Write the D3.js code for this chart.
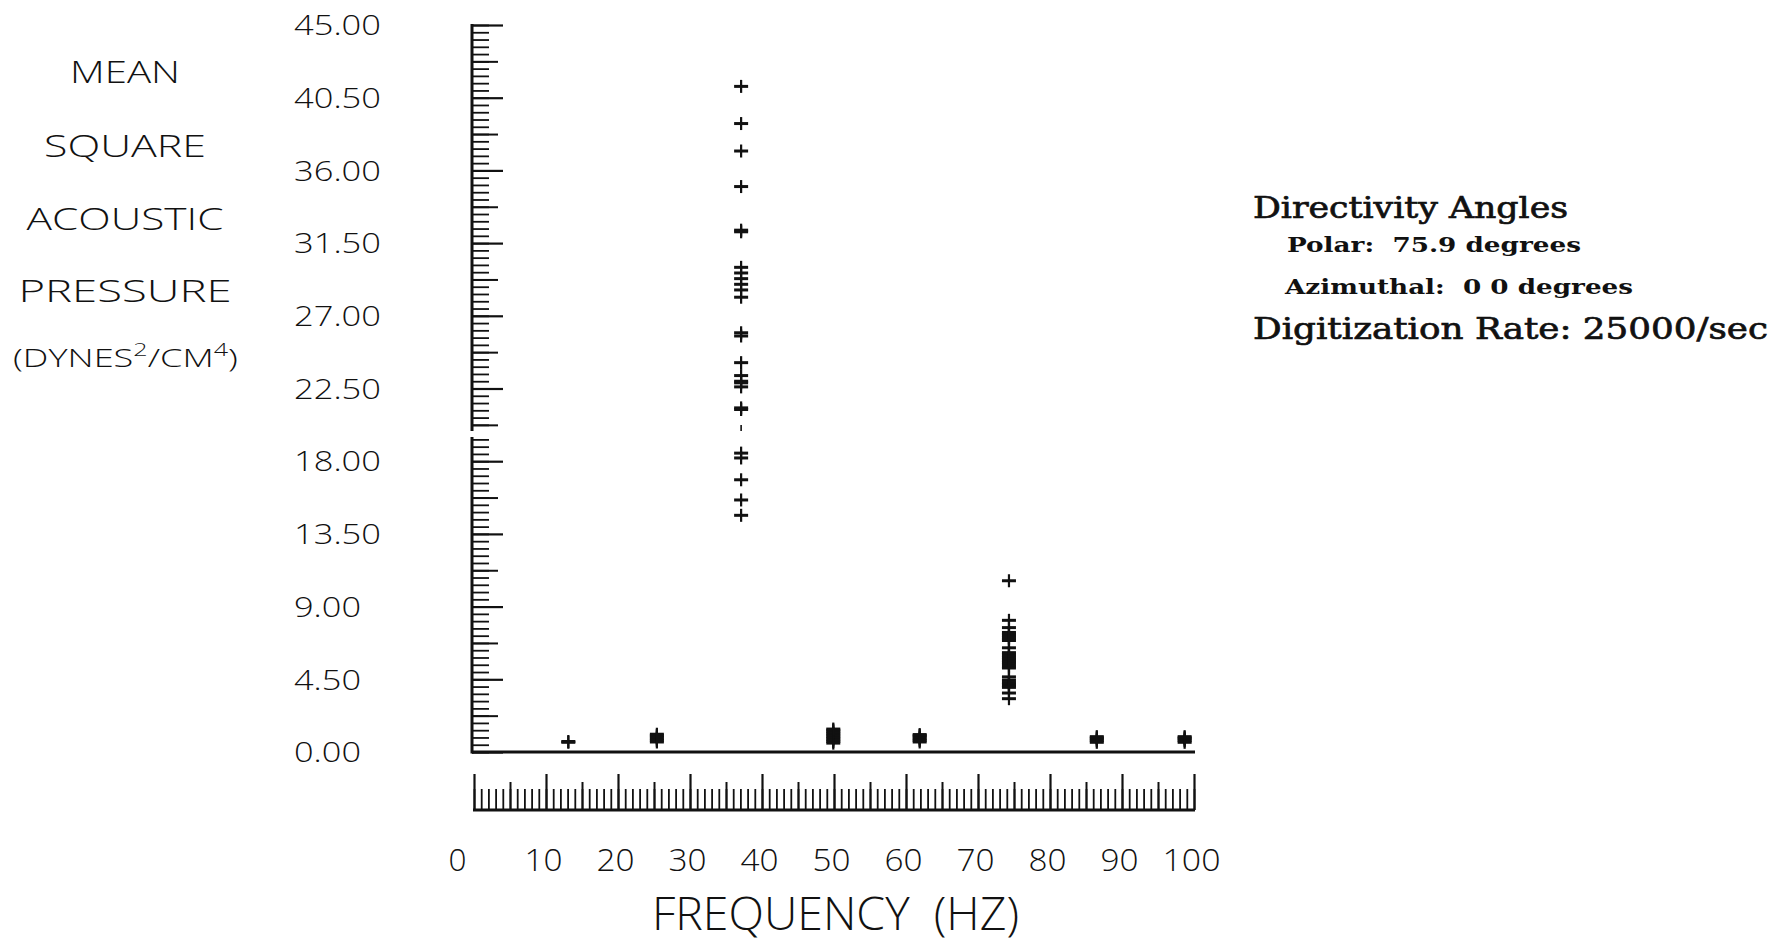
<!DOCTYPE html>
<html>
<head>
<meta charset="utf-8">
<script src="https://cdn.jsdelivr.net/npm/d3@7"></script>
<style>
  body { margin: 0; background: #fff; }
  svg text { white-space: pre; }
</style>
</head>
<body>
<svg id="chart" width="1786" height="942"></svg>
<script>
// ---------------- data ----------------
const yTickValues = [0, 4.5, 9, 13.5, 18, 22.5, 27, 31.5, 36, 40.5, 45];
const yTickLabels = ["0.00", "4.50", "9.00", "13.50", "18.00", "22.50", "27.00", "31.50", "36.00", "40.50", "45.00"];
const xTickValues = [0, 10, 20, 30, 40, 50, 60, 70, 80, 90, 100];
const xTickLabels = ["0", "10", "20", "30", "40", "50", "60", "70", "80", "90", "100"];

// harmonic frequencies (Hz)
const harmonicFreqs = [13.1, 25.4, 37.1, 49.9, 61.9, 74.3, 86.5, 98.7];
// mean square acoustic pressure observations at each harmonic
const harmonic1 = [0.6, 0.65];
const harmonic2 = [0.62, 0.72, 0.82, 0.92, 1.02, 1.1];
const harmonic3 = [41.2, 38.9, 37.2, 35.0, 32.3, 32.2, 30.0, 29.65, 29.3, 28.95, 28.6, 28.15,
                   25.95, 25.75, 24.1, 23.3, 22.95, 22.85, 22.6, 21.3, 21.2, 18.5, 18.2, 16.85, 15.6, 14.65];
const harmonic4 = [0.55, 0.65, 0.75, 0.85, 0.95, 1.05, 1.15, 1.25, 1.35, 1.42];
const harmonic5 = [0.62, 0.72, 0.82, 0.92, 1.02, 1.08];
const harmonic6 = [10.6, 8.15, 7.7, 7.4, 7.3, 7.2, 7.1, 7.0, 6.9, 6.45, 6.15, 6.05, 5.95, 5.85, 5.75,
                   5.65, 5.55, 5.45, 5.3, 5.2, 4.65, 4.45, 4.3, 4.2, 4.1, 4.0, 3.65, 3.3];
const harmonic7 = [0.6, 0.7, 0.8, 0.88, 0.95];
const harmonic8 = [0.6, 0.7, 0.8, 0.88, 0.95];
const harmonicValues = [harmonic1, harmonic2, harmonic3, harmonic4, harmonic5, harmonic6, harmonic7, harmonic8];
// partial (faint) mark
const faintFreqs = [37.1];
const faintValues = [20.05];

const yTitleLines = ["MEAN", "SQUARE", "ACOUSTIC", "PRESSURE"];
const yUnitParts = ["(DYNES", "2", "/CM", "4", ")"];
const xTitle = "FREQUENCY  (HZ)";
const infoLines = ["Directivity Angles", "Polar:  75.9 degrees", "Azimuthal:  0 0 degrees", "Digitization Rate: 25000/sec"];

// ---------------- drawing ----------------
const ink = "#111";
const svg = d3.select("#chart");
const x = d3.scaleLinear().domain([0, 100]).range([474, 1194]);
const y = d3.scaleLinear().domain([0, 45]).range([752, 25]);
const axisX = 472;

const sans = "'Open Sans', 'DejaVu Sans', sans-serif";
const sansW = 300;
const serif = "'DejaVu Serif', 'Liberation Serif', serif";

// --- Y axis ticks (pointing inward) ---
const minorY = d3.range(0, 101).map(i => +(i * 0.45).toFixed(4));
const mediumY = d3.range(0, 10).map(i => 2.25 + i * 4.5);
function styleAxis(g, w) {
  g.selectAll("path,line").attr("stroke", ink).attr("stroke-width", w);
  g.select(".domain").remove();
  g.selectAll("text").remove();
}
svg.append("g").attr("transform", `translate(${axisX},0)`)
  .call(d3.axisRight(y).tickValues(minorY).tickSize(17).tickSizeOuter(0).tickFormat(""))
  .call(g => styleAxis(g, 1.8));
svg.append("g").attr("transform", `translate(${axisX},0)`)
  .call(d3.axisRight(y).tickValues(mediumY).tickSize(26).tickSizeOuter(0).tickFormat(""))
  .call(g => styleAxis(g, 2));
svg.append("g").attr("transform", `translate(${axisX},0)`)
  .call(d3.axisRight(y).tickValues(yTickValues).tickSize(31).tickSizeOuter(0).tickFormat(""))
  .call(g => styleAxis(g, 2.2));
// y axis line
svg.append("line").attr("x1", axisX).attr("x2", axisX).attr("y1", y(45) - 1).attr("y2", y(0) + 1.5)
  .attr("stroke", ink).attr("stroke-width", 3);
// small break in the axis as in the original print
svg.append("rect").attr("x", axisX - 4).attr("y", 431).attr("width", 40).attr("height", 6).attr("fill", "#fff");

// y labels
const yLab = svg.append("g").attr("transform", `translate(${axisX},0)`)
  .call(d3.axisLeft(y).tickValues(yTickValues).tickSize(0).tickFormat((d, i) => yTickLabels[i]));
yLab.select(".domain").remove();
yLab.selectAll("text")
  .attr("x", 294 - axisX).attr("dy", "0.36em")
  .attr("text-anchor", "start")
  .attr("font-family", sans).attr("font-weight", sansW).attr("font-size", 27).attr("fill", ink)
  .attr("textLength", d => (yTickLabels[yTickValues.indexOf(d)].length === 5 ? 87 : 67))
  .attr("lengthAdjust", "spacingAndGlyphs");

// plot baseline
svg.append("line").attr("x1", axisX).attr("x2", x(100) + 1).attr("y1", y(0)).attr("y2", y(0))
  .attr("stroke", ink).attr("stroke-width", 3);

// --- X ruler ---
const rulerY = 810;
const minorX = d3.range(0, 101);
const mediumX = d3.range(5, 100, 10);
svg.append("g").attr("transform", `translate(0,${rulerY})`)
  .call(d3.axisTop(x).tickValues(minorX).tickSize(21).tickSizeOuter(0).tickFormat(""))
  .call(g => styleAxis(g, 1.8));
svg.append("g").attr("transform", `translate(0,${rulerY})`)
  .call(d3.axisTop(x).tickValues(mediumX).tickSize(28).tickSizeOuter(0).tickFormat(""))
  .call(g => styleAxis(g, 2));
svg.append("g").attr("transform", `translate(0,${rulerY})`)
  .call(d3.axisTop(x).tickValues(xTickValues).tickSize(36).tickSizeOuter(0).tickFormat(""))
  .call(g => styleAxis(g, 2.2));
svg.append("line").attr("x1", x(0) - 1).attr("x2", x(100) + 1).attr("y1", rulerY).attr("y2", rulerY)
  .attr("stroke", ink).attr("stroke-width", 3);

// x labels
const xLab = svg.append("g").attr("transform", `translate(0,871)`)
  .call(d3.axisBottom(x).tickValues(xTickValues).tickSize(0).tickPadding(0)
    .tickFormat((d, i) => xTickLabels[i]));
xLab.select(".domain").remove();
xLab.selectAll("text")
  .attr("y", 0).attr("dy", 0)
  .attr("dx", d => (d === 0 ? -17 : -3))
  .attr("font-family", sans).attr("font-weight", sansW).attr("font-size", 31).attr("fill", ink)
  .attr("textLength", d => String(d).length * 20 - 2).attr("lengthAdjust", "spacingAndGlyphs");

// --- markers ---
const points = [];
harmonicValues.forEach((vals, i) => vals.forEach(v => points.push({ f: harmonicFreqs[i], v })));
const marks = svg.append("g");
const pt = marks.selectAll("g.pt").data(points).join("g").attr("class", "pt")
  .attr("transform", d => `translate(${x(d.f)},${y(d.v)})`);
pt.append("line").attr("x1", -7).attr("x2", 7).attr("y1", 0).attr("y2", 0)
  .attr("stroke", ink).attr("stroke-width", 3);
pt.append("line").attr("x1", 0).attr("x2", 0).attr("y1", -6.5).attr("y2", 6.5)
  .attr("stroke", ink).attr("stroke-width", 2.2);
marks.selectAll("line.faint").data(faintFreqs).join("line").attr("class", "faint")
  .attr("x1", d => x(d)).attr("x2", d => x(d))
  .attr("y1", (d, i) => y(faintValues[i]) - 3).attr("y2", (d, i) => y(faintValues[i]) + 3)
  .attr("stroke", ink).attr("stroke-width", 1.6);

// --- y title ---
const titleWidths = [110, 162, 197, 213];
const titleBase = [83, 157, 230, 302];
svg.append("g").selectAll("text").data(yTitleLines).join("text")
  .attr("x", (d, i) => 125 - titleWidths[i] / 2)
  .attr("y", (d, i) => titleBase[i])
  .attr("font-family", sans).attr("font-weight", sansW).attr("font-size", 31).attr("fill", ink)
  .attr("textLength", (d, i) => titleWidths[i]).attr("lengthAdjust", "spacingAndGlyphs")
  .text(d => d);

// units line with real superscripts, stretched horizontally to the original width
const units = svg.append("text").attr("y", 367)
  .attr("font-family", sans).attr("font-weight", sansW).attr("font-size", 26).attr("fill", ink);
yUnitParts.forEach((p, i) => {
  const sup = i === 1 || i === 3;
  units.append("tspan")
    .attr("font-size", sup ? 18 : 26)
    .attr("dy", sup ? -11 : (i > 0 ? 11 : 0))
    .text(p);
});
{
  const bb = units.node().getBBox();
  const sx = 225 / bb.width;
  units.attr("transform", `translate(13,0) scale(${sx},1) translate(${-bb.x},0)`);
}

// --- x title ---
svg.append("text").attr("x", 652).attr("y", 930)
  .attr("font-family", sans).attr("font-weight", sansW).attr("font-size", 46).attr("fill", ink)
  .attr("textLength", 367).attr("lengthAdjust", "spacingAndGlyphs")
  .text(xTitle);

// --- info block ---
const infoX = [1253, 1287, 1285, 1253];
const infoY = [218, 252, 294, 339];
const infoSize = [30, 21, 21, 30];
const infoW = [315, 294, 348, 515];
svg.append("g").selectAll("text").data(infoLines).join("text")
  .attr("x", (d, i) => infoX[i]).attr("y", (d, i) => infoY[i])
  .attr("font-family", serif)
  .attr("font-size", (d, i) => infoSize[i])
  .attr("font-weight", (d, i) => (infoSize[i] < 25 ? "bold" : "normal"))
  .attr("fill", ink)
  .attr("stroke", (d, i) => (infoSize[i] < 25 ? "none" : ink))
  .attr("stroke-width", 0.7)
  .attr("textLength", (d, i) => infoW[i]).attr("lengthAdjust", "spacingAndGlyphs")
  .text(d => d);
</script>
</body>
</html>
